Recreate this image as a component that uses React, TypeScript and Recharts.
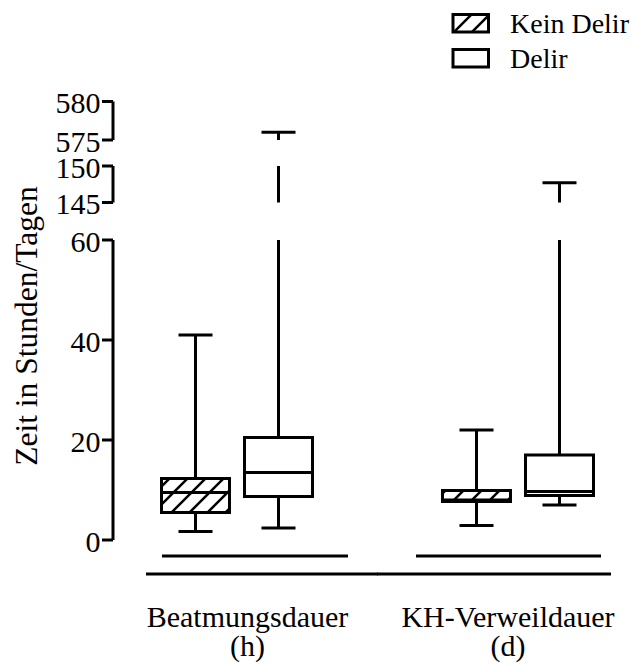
import React from "react";
import {
  ComposedChart,
  Bar,
  XAxis,
  YAxis,
  Legend,
  ReferenceArea,
} from "recharts";

// categories and box plot stats (raw values, hours / days)
const categories = ["Beatmungsdauer", "KH-Verweildauer"];
const units = ["(h)", "(d)"];

const keinMin = [1.7, 2.9];
const keinQ1 = [5.5, 7.7];
const keinMedian = [9.5, 8.0];
const keinQ3 = [12.3, 9.9];
const keinMax = [41, 22];

const delirMin = [2.4, 7.0];
const delirQ1 = [8.7, 8.9];
const delirMedian = [13.5, 9.7];
const delirQ3 = [20.5, 17.0];
const delirMax = [576, 147.7];

const yTickValues = [0, 20, 40, 60, 145, 150, 575, 580];

// broken axis: raw range -> display range
const yBreaks = [
  { from: -Infinity, to: 60, dFrom: -Infinity, dTo: 60 },
  { from: 145, to: 150, dFrom: 67.5, dTo: 74.8 },
  { from: 575, to: 580, dFrom: 80, dTo: 87.7 },
];
const axisSegments = [
  [0, 60],
  [145, 150],
  [575, 580],
];

const T = (v: number) => {
  if (v <= 60) return v;
  for (const b of yBreaks) {
    if (v >= b.from && v <= b.to)
      return b.dFrom + ((v - b.from) * (b.dTo - b.dFrom)) / (b.to - b.from);
  }
  return v;
};

const data = categories.map((c, i) => ({
  name: c,
  unit: units[i],
  kein: [keinMin[i], keinQ1[i], keinMedian[i], keinQ3[i], keinMax[i]],
  delir: [delirMin[i], delirQ1[i], delirMedian[i], delirQ3[i], delirMax[i]],
}));

const FONT = '"Liberation Serif", "Times New Roman", Times, serif';
const txt = (size: number) => ({ fontFamily: FONT, fontSize: size });
const SW = 3;

const makeBox = (key: "kein" | "delir", fill: string) => (props: any) => {
  const { x, y, width, height, payload } = props;
  const [mn, q1, md, q3, mx] = payload[key] as number[];
  const dMin = T(mn);
  const dMax = T(mx);
  const h = Math.abs(height);
  const top = height < 0 ? y + height : y;
  const ppu = h / (dMax - dMin);
  const py = (v: number) => top + (dMax - T(v)) * ppu;
  const pyD = (d: number) => top + (dMax - d) * ppu;
  const cx = x + width / 2;
  const cap = width / 2;

  // whisker pieces clipped to visible axis segments
  const pieces: React.ReactNode[] = [];
  const addWhisker = (a: number, b: number, k: string) => {
    const lo = T(a);
    const hi = T(b);
    yBreaks.forEach((s, i) => {
      const s0 = Math.max(lo, s.dFrom);
      const s1 = Math.min(hi, s.dTo);
      if (s1 > s0)
        pieces.push(
          <line
            key={k + i}
            x1={cx}
            x2={cx}
            y1={pyD(s0)}
            y2={pyD(s1)}
            stroke="#000"
            strokeWidth={SW}
          />
        );
    });
  };
  addWhisker(mn, q1, "lo");
  addWhisker(q3, mx, "hi");

  return (
    <g>
      {pieces}
      <line x1={cx - cap / 2} x2={cx + cap / 2} y1={py(mn)} y2={py(mn)} stroke="#000" strokeWidth={SW} />
      <line x1={cx - cap / 2} x2={cx + cap / 2} y1={py(mx)} y2={py(mx)} stroke="#000" strokeWidth={SW} />
      <rect
        x={x}
        y={py(q3)}
        width={width}
        height={py(q1) - py(q3)}
        fill={fill}
        stroke="#000"
        strokeWidth={SW}
      />
      <line x1={x} x2={x + width} y1={py(md)} y2={py(md)} stroke="#000" strokeWidth={SW} />
    </g>
  );
};

const YTick = (props: any) => {
  const { x, y, index } = props;
  return (
    <g>
      <line x1={x + 5.5} x2={x + 16.5} y1={y} y2={y} stroke="#000" strokeWidth={SW} />
      <text x={x + 4} y={y + 11.5} textAnchor="end" fill="#000" style={txt(30)}>
        {yTickValues[index]}
      </text>
    </g>
  );
};

// per-group decoration offsets (underline, axis piece, label shift)
const groupDeco = [
  { ul: [-75, 111], ax: [-91, 141], dx: 10.5 },
  { ul: [-102, 83], ax: [-141, 93], dx: -10 },
];

const XTick = (props: any) => {
  const { x, y, index } = props;
  const g = groupDeco[index];
  return (
    <g>
      <line x1={x + g.ul[0]} x2={x + g.ul[1]} y1={y - 18} y2={y - 18} stroke="#000" strokeWidth={SW} />
      <line x1={x + g.ax[0]} x2={x + g.ax[1]} y1={y} y2={y} stroke="#000" strokeWidth={SW} />
      <text x={x + g.dx} y={y + 53} textAnchor="middle" fill="#000" style={txt(30)}>
        {categories[index]}
      </text>
      <text x={x + g.dx} y={y + 82} textAnchor="middle" fill="#000" style={txt(30)}>
        {units[index]}
      </text>
    </g>
  );
};

const AxisSeg = (props: any) => {
  const { x, y, height } = props;
  return (
    <line x1={x + 16.5} x2={x + 16.5} y1={y} y2={y + height} stroke="#000" strokeWidth={SW} />
  );
};

const renderLegend = () => (
  <svg width={635} height={80} style={{ position: "absolute", left: 0, top: 0 }}>
    <defs>
      <pattern id="hatchLegend" patternUnits="userSpaceOnUse" width={18} height={18}>
        <rect width={18} height={18} fill="#fff" />
        <path d="M-4.5,4.5 l9,-9 M0,18 l18,-18 M13.5,22.5 l9,-9" stroke="#000" strokeWidth={2.5} />
      </pattern>
    </defs>
    <rect x={453} y={14.5} width={35.5} height={17.5} fill="url(#hatchLegend)" stroke="#000" strokeWidth={SW} />
    <text x={510} y={33} fill="#000" style={txt(28)}>
      Kein Delir
    </text>
    <rect x={453} y={49.5} width={35.5} height={17.5} fill="#fff" stroke="#000" strokeWidth={SW} />
    <text x={510} y={68} fill="#000" style={txt(28)}>
      Delir
    </text>
  </svg>
);

export default function App() {
  return (
    <div
      style={{
        position: "absolute",
        left: 0,
        top: 0,
        width: 635,
        height: 666,
        background: "#fff",
        fontFamily: FONT,
      }}
    >
      <ComposedChart
        width={635}
        height={666}
        data={data}
        margin={{ top: 101.5, right: -23.5, bottom: 0, left: 0 }}
        barSize={68}
        barGap={15}
      >
        <defs>
          <pattern id="hatch" patternUnits="userSpaceOnUse" width={18} height={18}>
            <rect width={18} height={18} fill="#fff" />
            <path d="M-4.5,4.5 l9,-9 M0,18 l18,-18 M13.5,22.5 l9,-9" stroke="#000" strokeWidth={2.5} />
          </pattern>
        </defs>
        <XAxis
          dataKey="name"
          height={92}
          axisLine={false}
          tickLine={false}
          tickSize={0}
          tickMargin={0}
          interval={0}
          tick={<XTick />}
        />
        <YAxis
          type="number"
          width={96.5}
          domain={[-6.8, 87.7]}
          ticks={yTickValues.map(T)}
          axisLine={false}
          tickLine={false}
          tickSize={0}
          tickMargin={0}
          interval={0}
          tick={<YTick />}
          label={() => (
            <text
              x={37}
              y={326}
              transform="rotate(-90, 37, 326)"
              textAnchor="middle"
              fill="#000"
              style={txt(31.5)}
            >
              Zeit in Stunden/Tagen
            </text>
          )}
        />
        {axisSegments.map(([a, b], i) => (
          <ReferenceArea key={i} y1={T(a)} y2={T(b)} shape={<AxisSeg />} ifOverflow="visible" />
        ))}
        <Legend
          content={renderLegend}
          wrapperStyle={{ position: "absolute", left: 0, top: 0, width: 635, height: 0 }}
        />
        <Bar
          dataKey={(d: any) => [T(d.kein[0]), T(d.kein[4])]}
          name="Kein Delir"
          shape={makeBox("kein", "url(#hatch)")}
          isAnimationActive={false}
        />
        <Bar
          dataKey={(d: any) => [T(d.delir[0]), T(d.delir[4])]}
          name="Delir"
          shape={makeBox("delir", "#fff")}
          isAnimationActive={false}
        />
      </ComposedChart>
    </div>
  );
}
